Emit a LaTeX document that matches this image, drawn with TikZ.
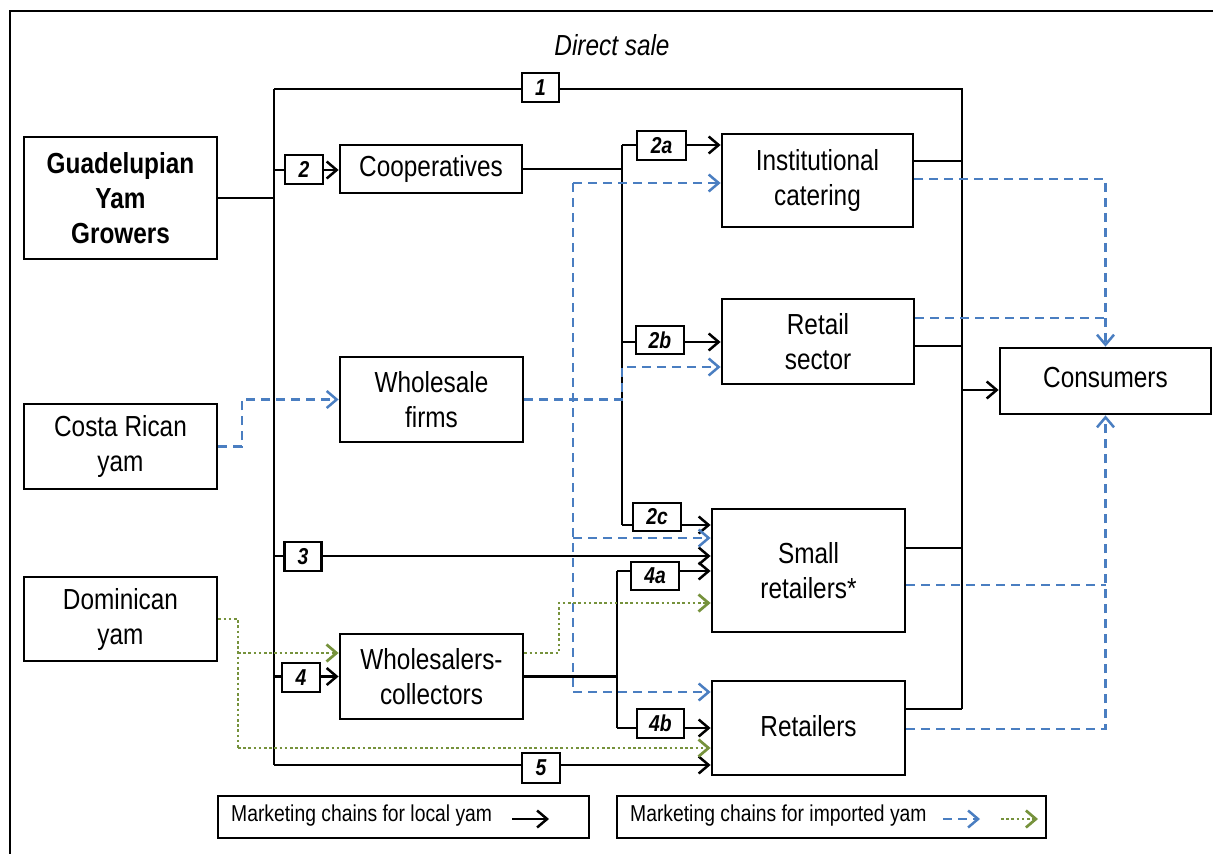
\documentclass[tikz,border=0pt]{standalone}
\usepackage{fontspec}
\setmainfont[FakeStretch=0.84]{Liberation Sans}
\usetikzlibrary{arrows.meta}
\definecolor{impblue}{RGB}{74,126,193}
\definecolor{domgreen}{RGB}{118,146,60}
\begin{document}
\begin{tikzpicture}[x=1pt,y=-1pt,
 box/.style={draw,line width=2.8pt,fill=white,align=center,inner sep=0pt,font=\fontsize{29}{35}\selectfont},
 lab/.style={draw,line width=2.2pt,fill=white,inner sep=0pt,font=\fontsize{23}{25}\selectfont\bfseries\itshape},
 legbox/.style={draw,line width=2.8pt,fill=white,inner sep=0pt},
 legtxt/.style={anchor=west,inner sep=0pt,font=\fontsize{23}{25}\selectfont},
 ln/.style={line width=2.5pt},
 arr/.style={-{Straight Barb[length=10pt,width=17pt]}},
 imp/.style={line width=2.5pt,impblue,dash pattern=on 9pt off 6pt},
 dom/.style={line width=2.7pt,domgreen,dash pattern=on 2.5pt off 2.7pt},
]
\clip (0,0) rectangle (1213,854);
\fill[white] (0,0) rectangle (1213,854);
\draw[line width=2.6pt] (10,11) rectangle (1240,880);

\node (ds) at (612,45) {\fontsize{29}{35}\selectfont\itshape Direct sale};

% main boxes
\node[box,minimum width=193pt,minimum height=122pt,font=\fontsize{29}{35}\selectfont\bfseries] (grow) at (120.5,198) {Guadelupian\\Yam\\Growers};
\node[box,minimum width=182pt,minimum height=48pt] (coop) at (431,169) {\raisebox{2pt}{Cooperatives}};
\node[box,minimum width=191pt,minimum height=93pt] (inst) at (817.5,180.5) {\raisebox{2pt}{\begin{tabular}{@{}c@{}}Institutional\\catering\end{tabular}}};
\node[box,minimum width=192pt,minimum height=85pt] (retail) at (818,341.5) {Retail\\sector};
\node[box,minimum width=211pt,minimum height=66pt] (cons) at (1105.5,381) {\raisebox{8pt}{Consumers}};
\node[box,minimum width=183pt,minimum height=85pt] (wfirms) at (431.5,399.5) {Wholesale\\firms};
\node[box,minimum width=193pt,minimum height=85pt] (costa) at (120.5,446.5) {Costa Rican\\yam};
\node[box,minimum width=193pt,minimum height=84pt] (domin) at (120.5,619) {Dominican\\yam};
\node[box,minimum width=193pt,minimum height=123pt] (small) at (808.5,570.5) {Small\\retailers*};
\node[box,minimum width=193pt,minimum height=94pt] (retailers) at (808.5,728) {\raisebox{4pt}{Retailers}};
\node[box,minimum width=183pt,minimum height=85pt] (wcoll) at (431.5,676.5) {Wholesalers-\\collectors};

% junction coordinates
\coordinate (T1) at (274,89);
\coordinate (T5) at (274,765);
\coordinate (Tg) at (274,198);
\coordinate (R1) at (962,89);
\coordinate (R5) at (962,709);
\coordinate (ci) at (962,161);
\coordinate (cr) at (962,346);
\coordinate (cs) at (962,548);
\coordinate (cc) at (962,390);
\coordinate (j2) at (274,170);
\coordinate (k2) at (622,169);
\coordinate (a2) at (622,145);
\coordinate (b2) at (622,342);
\coordinate (c2) at (622,525);
\coordinate (j3) at (274,556);
\coordinate (j4) at (274,676.5);
\coordinate (k4) at (617,676.5);
\coordinate (a4) at (617,571);
\coordinate (b4) at (617,728);

% local chains (black)
\draw[ln] (grow.east) -- (Tg);
\draw[ln] (T1) -- (T5);
\draw[ln] (T1) -- (R1) -- (R5);
\draw[ln] (inst.east |- ci) -- (ci);
\draw[ln] (retail.east |- cr) -- (cr);
\draw[ln] (small.east |- cs) -- (cs);
\draw[ln] (retailers.east |- R5) -- (R5);
\draw[ln,arr] (cc) -- (cc -| cons.west);
\draw[ln,arr] (j2) -- (j2 -| coop.west);
\draw[ln] (coop.east) -- (k2);
\draw[ln] (a2) -- (c2);
\draw[ln,arr] (a2) -- (a2 -| inst.west);
\draw[ln,arr] (b2) -- (b2 -| retail.west);
\draw[ln,arr] (c2) -- (c2 -| small.west);
\draw[ln,arr] (j3) -- (j3 -| small.west);
\draw[ln,arr] (j4) -- (j4 -| wcoll.west);
\draw[ln] (wcoll.east) -- (k4);
\draw[ln] (a4) -- (b4);
\draw[ln,arr] (a4) -- (a4 -| small.west);
\draw[ln,arr] (b4) -- (b4 -| retailers.west);
\draw[ln,arr] (T5) -- (T5 -| retailers.west);

% imported: Costa Rica (blue dashed)
\coordinate (cx) at (242,446.5);
\coordinate (wf1) at (622,399.5);
\coordinate (wf2) at (622,367);
\coordinate (d1) at (573,183);
\coordinate (d2) at (573,538);
\coordinate (d3) at (573,692);
\coordinate (e1) at (1105.5,179);
\coordinate (e2) at (1105.5,318);
\coordinate (e3) at (1105.5,585);
\coordinate (e4) at (1105.5,729);
\draw[imp,arr] (costa.east) -- (cx) |- (wfirms.west);
\draw[imp,arr] (wfirms.east) -- (wf1) -- (wf2) -- (wf2 -| retail.west);
\draw[imp] (d1) -- (d3);
\draw[imp,arr] (d1) -- (d1 -| inst.west);
\draw[imp,arr] (d2) -- (d2 -| small.west);
\draw[imp,arr] (d3) -- (d3 -| retailers.west);
\draw[imp,arr] (inst.east |- e1) -- (e1) -- (cons.north);
\draw[imp] (retail.east |- e2) -- (e2);
\draw[imp] (small.east |- e3) -- (e3);
\draw[imp,arr] (retailers.east |- e4) -- (e4) -- (cons.south);

% imported: Dominican (green dotted)
\coordinate (g1) at (238,619);
\coordinate (g2) at (238,748);
\coordinate (g3) at (238,653);
\coordinate (g4) at (559,653);
\coordinate (g5) at (559,603);
\draw[dom] (domin.east) -- (g1) -- (g2);
\draw[dom,arr] (g3) -- (g3 -| wcoll.west);
\draw[dom,arr] (g2) -- (g2 -| retailers.west);
\draw[dom,arr] (wcoll.east |- g3) -- (g4) -- (g5) -- (g5 -| small.west);

% chain labels
\node[lab,minimum width=37pt,minimum height=29pt] (l1) at (540.5,87.5) {1};
\node[lab,minimum width=38pt,minimum height=29pt] (l2) at (304,169.5) {2};
\node[lab,minimum width=49pt,minimum height=29pt] (l2a) at (661.5,145.5) {2a};
\node[lab,minimum width=48pt,minimum height=28pt] (l2b) at (660,340) {2b};
\node[lab,minimum width=48pt,minimum height=28pt] (l2c) at (657,517) {2c};
\node[lab,minimum width=37pt,minimum height=29pt] (l3) at (303,556.5) {3};
\node[lab,minimum width=48pt,minimum height=28pt] (l4a) at (655,576) {4a};
\node[lab,minimum width=38pt,minimum height=29pt] (l4) at (301,677.5) {4};
\node[lab,minimum width=47pt,minimum height=29pt] (l4b) at (660.5,723.5) {4b};
\node[lab,minimum width=38pt,minimum height=30pt] (l5) at (541,768) {5};

% legend
\node[legbox,minimum width=371pt,minimum height=42pt] (leg1) at (403.5,817) {};
\node[legtxt] (lt1) at (231,816) {Marketing chains for local yam};
\coordinate (la1) at (512,819);
\coordinate (la2) at (549,819);
\draw[ln,arr] (la1) -- (la2);
\node[legbox,minimum width=429pt,minimum height=42pt] (leg2) at (831.5,817) {};
\node[legtxt] (lt2) at (630,816) {Marketing chains for imported yam};
\coordinate (lb1) at (943,819);
\coordinate (lb2) at (980,819);
\coordinate (lc1) at (1001,819);
\coordinate (lc2) at (1038,819);
\draw[imp,arr] (lb1) -- (lb2);
\draw[dom,arr] (lc1) -- (lc2);
\end{tikzpicture}
\end{document}
